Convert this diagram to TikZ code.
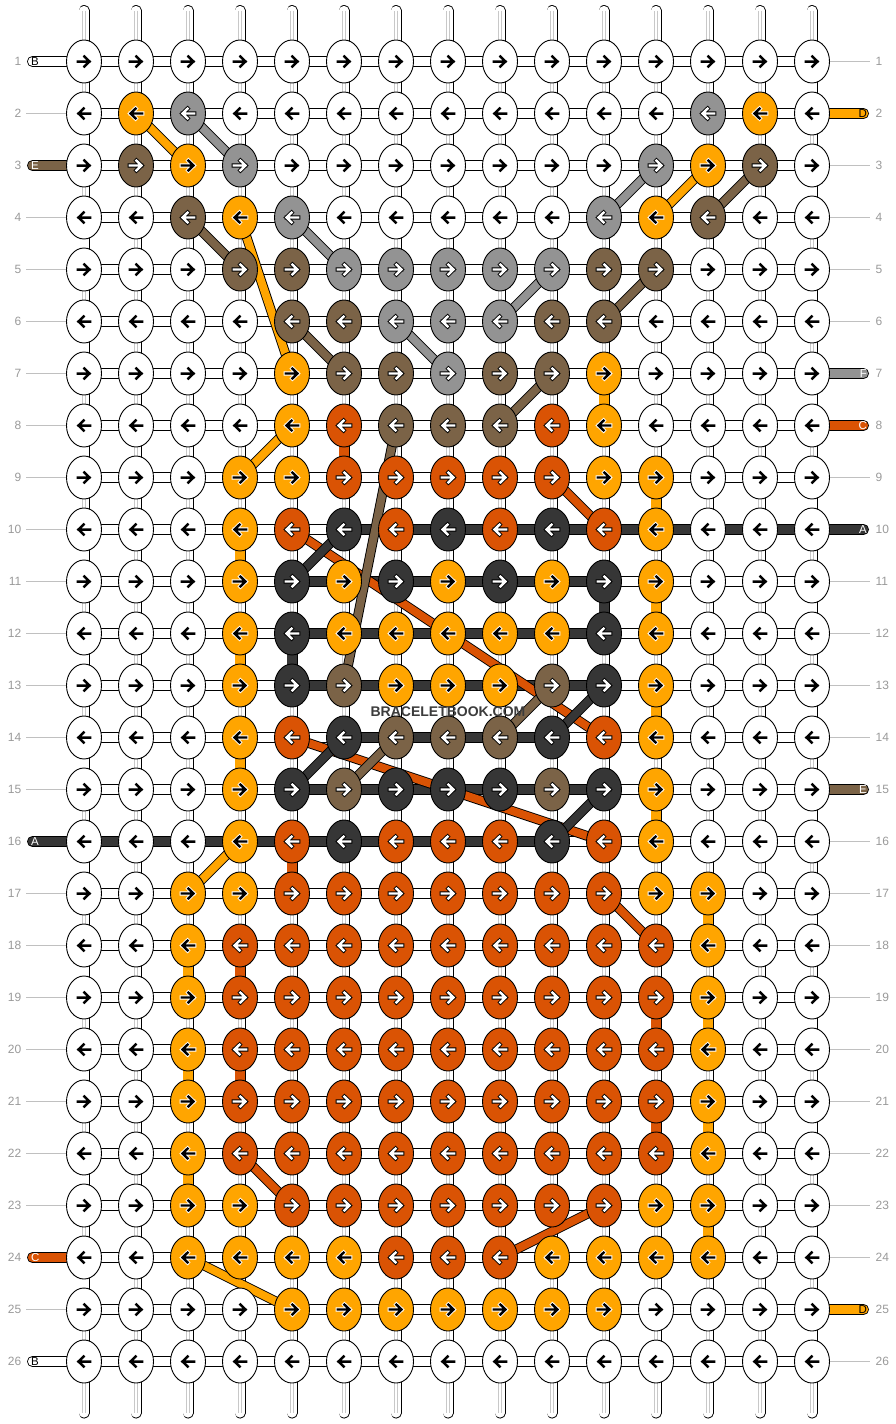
\documentclass[tikz,border=0pt]{standalone}
\usepackage{fontspec}
\setsansfont{Liberation Sans}
\usetikzlibrary{shapes.geometric}
\pgfdeclarelayer{back}
\pgfdeclarelayer{bg}
\pgfdeclarelayer{thr}
\pgfdeclarelayer{fg}
\pgfsetlayers{back,bg,thr,main,fg}
\definecolor{colW}{HTML}{FFFFFF}
\definecolor{colO}{HTML}{FFA500}
\definecolor{colG}{HTML}{939393}
\definecolor{colN}{HTML}{7B6347}
\definecolor{colR}{HTML}{DA5304}
\definecolor{colK}{HTML}{363636}
\definecolor{numgray}{HTML}{9A9A9A}
\definecolor{linegray}{HTML}{C0C0C0}
\definecolor{innergray}{HTML}{C8C8C8}
\definecolor{wmgray}{HTML}{3C3C3C}
\tikzset{
  knot/.style={ellipse, draw=black, line width=0.9pt, minimum width=35pt, minimum height=43pt, inner sep=0pt, outer sep=0pt},
  knotW/.style={fill=colW}, knotO/.style={fill=colO}, knotG/.style={fill=colG},
  knotN/.style={fill=colN}, knotR/.style={fill=colR}, knotK/.style={fill=colK},
  tube/.style={draw=black, line width=0.9pt, double=white, double distance=9.2pt},
  innerln/.style={draw=innergray, line width=0.6pt, double=white, double distance=2.4pt},
  thread/.style={draw=black, line width=0.9pt, double distance=8pt},
  arrbase/.style={line cap=rect, line join=miter},
  ahaloW/.style={draw=none}, afillW/.style={draw=black, line width=2.5pt},
  ahaloO/.style={draw=white, line width=4.2pt}, afillO/.style={draw=black, line width=2.4pt},
  ahaloG/.style={draw=black, line width=4.2pt}, afillG/.style={draw=white, line width=2.4pt},
  ahaloN/.style={draw=black, line width=4.2pt}, afillN/.style={draw=white, line width=2.4pt},
  ahaloR/.style={draw=black, line width=4.2pt}, afillR/.style={draw=white, line width=2.4pt},
  ahaloK/.style={draw=black, line width=4.2pt}, afillK/.style={draw=white, line width=2.4pt},
  numtxt/.style={font=\sffamily\fontsize{12}{12}\selectfont, text=numgray, inner sep=0pt},
  numline/.style={draw=linegray, line width=0.8pt},
  tailtxt/.style={font=\sffamily\fontsize{11.5}{12}\selectfont, inner sep=0pt},
}
\begin{document}
\begin{tikzpicture}[x=1pt,y=-1pt]
\useasboundingbox (0,0) rectangle (896,1424);
\begin{pgfonlayer}{back}
\fill[white] (0,0) rectangle (896,1424);
\end{pgfonlayer}

% knots
\foreach \rowlist [count=\r] in {
{W,W,W,W,W,W,W,W,W,W,W,W,W,W,W},
{W,O,G,W,W,W,W,W,W,W,W,W,G,O,W},
{W,N,O,G,W,W,W,W,W,W,W,G,O,N,W},
{W,W,N,O,G,W,W,W,W,W,G,O,N,W,W},
{W,W,W,N,N,G,G,G,G,G,N,N,W,W,W},
{W,W,W,W,N,N,G,G,G,N,N,W,W,W,W},
{W,W,W,W,O,N,N,G,N,N,O,W,W,W,W},
{W,W,W,W,O,R,N,N,N,R,O,W,W,W,W},
{W,W,W,O,O,R,R,R,R,R,O,O,W,W,W},
{W,W,W,O,R,K,R,K,R,K,R,O,W,W,W},
{W,W,W,O,K,O,K,O,K,O,K,O,W,W,W},
{W,W,W,O,K,O,O,O,O,O,K,O,W,W,W},
{W,W,W,O,K,N,O,O,O,N,K,O,W,W,W},
{W,W,W,O,R,K,N,N,N,K,R,O,W,W,W},
{W,W,W,O,K,N,K,K,K,N,K,O,W,W,W},
{W,W,W,O,R,K,R,R,R,K,R,O,W,W,W},
{W,W,O,O,R,R,R,R,R,R,R,O,O,W,W},
{W,W,O,R,R,R,R,R,R,R,R,R,O,W,W},
{W,W,O,R,R,R,R,R,R,R,R,R,O,W,W},
{W,W,O,R,R,R,R,R,R,R,R,R,O,W,W},
{W,W,O,R,R,R,R,R,R,R,R,R,O,W,W},
{W,W,O,R,R,R,R,R,R,R,R,R,O,W,W},
{W,W,O,O,R,R,R,R,R,R,R,O,O,W,W},
{W,W,O,O,O,O,R,R,R,O,O,O,O,W,W},
{W,W,W,W,O,O,O,O,O,O,O,W,W,W,W},
{W,W,W,W,W,W,W,W,W,W,W,W,W,W,W}}{
  \pgfmathtruncatemacro\dir{isodd(\r) ? 1 : -1}
  \foreach \k [count=\c] in \rowlist {
    \node[knot, knot\k] (k-\r-\c) at ({84+52*(\c-1)},{61.5+52*(\r-1)}) {};
    \begin{scope}[shift={(k-\r-\c.center)}, xscale=\dir]
      \draw[arrbase, ahalo\k] (-6.2,0) -- (5.2,0) (0.4,-4.9) -- (5.5,0) -- (0.4,4.9);
      \draw[arrbase, afill\k] (-6.2,0) -- (5.2,0) (0.4,-4.9) -- (5.5,0) -- (0.4,4.9);
    \end{scope}
  }
}

\begin{pgfonlayer}{bg}
% row numbers
\foreach \r in {1,...,26} {
  \node[numtxt, anchor=east] (nl-\r) at (21.5,{61.5+52*(\r-1)}) {\r};
  \node[numtxt, anchor=west] (nr-\r) at (875.5,{61.5+52*(\r-1)}) {\r};
}
\foreach \r in {2,4,5,6,7,8,9,10,11,12,13,14,15,17,18,19,20,21,22,23,25} {
  \coordinate (ll-\r) at (26,{61.5+52*(\r-1)});
  \draw[numline] (ll-\r) -- (k-\r-1.center);
}
\foreach \r in {1,3,4,5,6,9,11,12,13,14,16,17,18,19,20,21,22,23,24,26} {
  \coordinate (rl-\r) at (870,{61.5+52*(\r-1)});
  \draw[numline] (k-\r-15.center) -- (rl-\r);
}
% top and bottom string ends
\foreach \c in {1,...,15} {
  \coordinate (top-\c) at ({84+52*(\c-1)},10.5);
  \coordinate (bot-\c) at ({84+52*(\c-1)},1413);
  \draw[tube, line cap=round] (top-\c) -- (k-1-\c.center);
  \draw[innerln] (top-\c) -- (k-1-\c.center);
  \draw[tube, line cap=round] (k-26-\c.center) -- (bot-\c);
  \draw[innerln] (k-26-\c.center) -- (bot-\c);
}
% vertical connectors
\foreach \r in {1,...,25} {
  \pgfmathtruncatemacro\rn{\r+1}
  \foreach \c in {1,...,15} {
    \draw[tube] (k-\r-\c.center) -- (k-\rn-\c.center);
    \draw[innerln] (k-\r-\c.center) -- (k-\rn-\c.center);
  }
}
% turns of the background string
\foreach \r in {1,3,...,25} {
  \pgfmathtruncatemacro\rn{\r+1}
  \draw[tube] (k-\r-15.center) -- (k-\rn-15.center);
}
\foreach \r in {2,4,...,24} {
  \pgfmathtruncatemacro\rn{\r+1}
  \draw[tube] (k-\r-1.center) -- (k-\rn-1.center);
}
% coloured turns
\foreach \r/\c/\k in {7/11/O, 9/12/O, 10/4/O, 11/12/O, 12/4/O, 13/12/O, 14/4/O, 15/12/O,
  17/13/O, 18/3/O, 19/13/O, 20/3/O, 21/13/O, 22/3/O, 23/13/O,
  8/6/R, 16/5/R, 18/4/R, 19/12/R, 20/4/R, 21/12/R, 11/11/K, 12/5/K} {
  \pgfmathtruncatemacro\rn{\r+1}
  \draw[tube, double=col\k] (k-\r-\c.center) -- (k-\rn-\c.center);
}
% horizontal connectors
\foreach \r in {1,...,26} {
  \foreach \c in {1,...,14} {
    \pgfmathtruncatemacro\cn{\c+1}
    \draw[tube] (k-\r-\c.center) -- (k-\r-\cn.center);
  }
}
\foreach \r/\a/\b in {10/6/14, 11/5/10, 12/5/10, 13/5/10, 14/6/9, 15/5/10, 16/1/9} {
  \foreach \c in {\a,...,\b} {
    \pgfmathtruncatemacro\cn{\c+1}
    \draw[tube, double=colK] (k-\r-\c.center) -- (k-\r-\cn.center);
  }
}
% tails
\foreach \r/\k/\lab/\lc in {1/W/B/black, 3/N/E/white, 16/K/A/white, 24/R/C/white, 26/W/B/black} {
  \coordinate (tl-\r) at (32.5,{61.5+52*(\r-1)});
  \draw[tube, line cap=round, double=col\k] (tl-\r) -- (k-\r-1.center);
  \node[tailtxt, text=\lc, anchor=west] (tlt-\r) at (31,{61.5+52*(\r-1)}) {\lab};
}
\foreach \r/\k/\lab/\lc in {2/O/D/black, 7/G/F/white, 8/R/C/white, 10/K/A/white, 15/N/E/white, 25/O/D/black} {
  \coordinate (tr-\r) at (863.5,{61.5+52*(\r-1)});
  \draw[tube, line cap=round, double=col\k] (k-\r-15.center) -- (tr-\r);
  \node[tailtxt, text=\lc, anchor=east] (trt-\r) at (867,{61.5+52*(\r-1)}) {\lab};
}
\end{pgfonlayer}

\begin{pgfonlayer}{thr}
\foreach \ra/\ca/\rb/\cb/\k in {
  9/10/10/11/R, 10/5/14/11/R, 14/5/16/11/R, 17/11/18/12/R, 22/4/23/5/R, 23/11/24/9/R,
  2/2/3/3/O, 3/13/4/12/O, 4/4/7/5/O, 8/5/9/4/O, 16/4/17/3/O, 24/3/25/5/O,
  2/3/3/4/G, 3/12/4/11/G, 4/5/5/6/G, 5/10/6/9/G, 6/7/7/8/G,
  3/14/4/13/N, 4/3/5/4/N, 5/12/6/11/N, 6/5/7/6/N, 7/10/8/9/N, 8/7/13/6/N, 13/10/14/9/N, 14/7/15/6/N,
  10/6/11/5/K, 13/11/14/10/K, 14/6/15/5/K, 15/11/16/10/K} {
  \draw[thread, double=col\k] (k-\ra-\ca.center) -- (k-\rb-\cb.center);
}
\end{pgfonlayer}

\begin{pgfonlayer}{fg}
\node[font=\sffamily\bfseries\fontsize{14}{14}\selectfont, text=wmgray, inner sep=0pt] (wm) at (448,711.5) {BRACELETBOOK.COM};
\end{pgfonlayer}
\end{tikzpicture}
\end{document}
